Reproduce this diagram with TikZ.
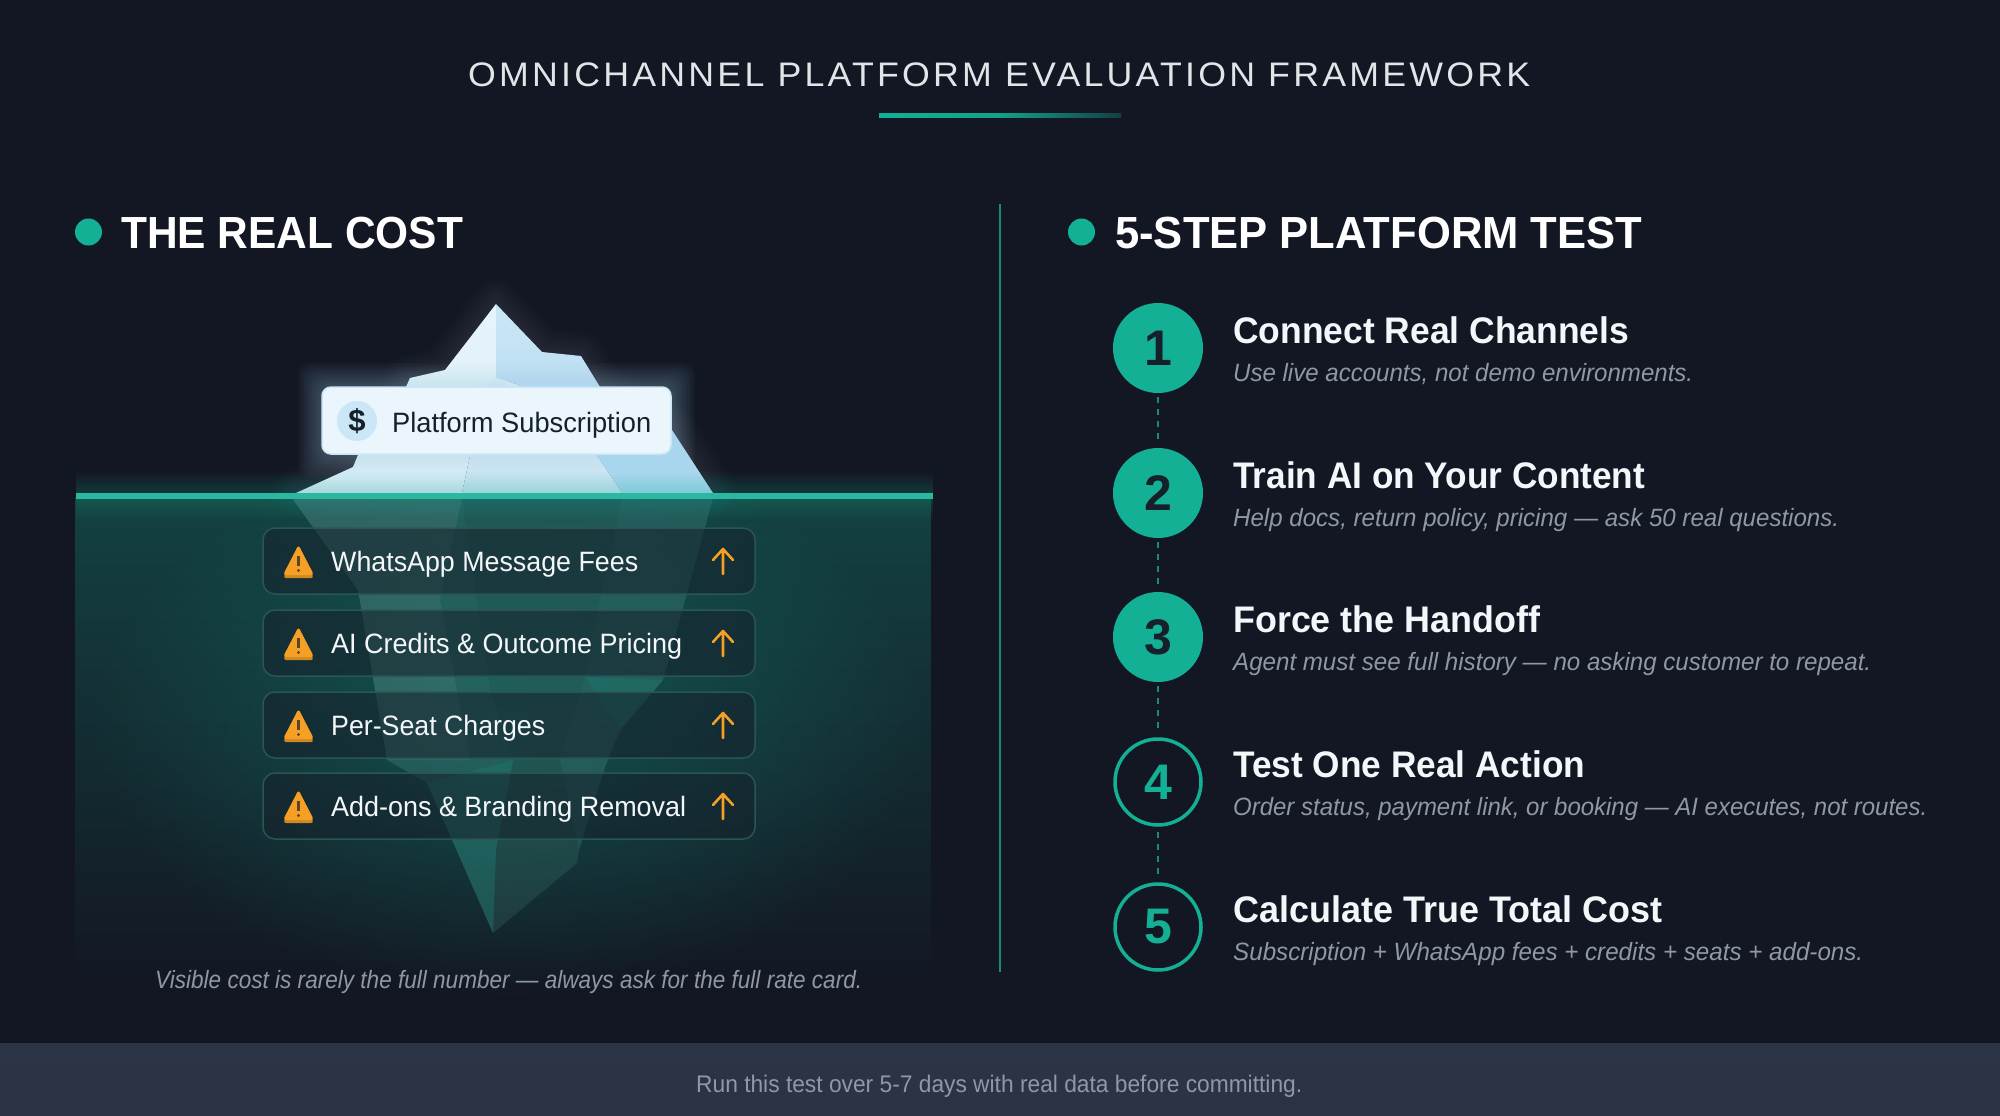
\documentclass[tikz,border=0pt]{standalone}
\usepackage{fontspec}
\usepackage{graphicx}
\setmainfont{Liberation Sans}
\newfontfamily\titlefont[LetterSpace=9]{Liberation Sans}
\usetikzlibrary{fadings,shadings,calc}
\definecolor{bgc}{HTML}{131723}
\definecolor{tealc}{HTML}{13B096}
\definecolor{teald}{HTML}{178A7A}
\definecolor{inkc}{HTML}{15202B}
\definecolor{greyc}{HTML}{8F98A4}
\definecolor{amberc}{HTML}{F5A024}
\definecolor{whitec}{HTML}{F4F7F9}
\definecolor{icea}{HTML}{E6F4FC}
\definecolor{iceb}{HTML}{CBE6F6}
\definecolor{icec}{HTML}{A8D6EF}
\definecolor{footc}{HTML}{2B3545}
\definecolor{footd}{HTML}{2A3342}
\newcommand{\fw}[2]{\resizebox{#1pt}{\height}{#2}}
\newcommand{\fs}[1]{\fontsize{#1}{#1}\selectfont}
\tikzfading[name=fadev, top color=transparent!72, middle color=transparent!93, bottom color=transparent!100]
\tikzfading[name=faderad, inner color=transparent!72, outer color=transparent!100]
\tikzset{
  txt/.style={inner sep=0pt, anchor=base west},
  stepfull/.style={circle, minimum size=90pt, inner sep=0pt, fill=tealc, text=inkc, font=\fs{50}\bfseries},
  stepring/.style={circle, minimum size=86pt, inner sep=0pt, draw=tealc, line width=3.5pt, text=tealc, font=\fs{50}\bfseries},
  stepdash/.style={draw=teald, line width=1.6pt, dash pattern=on 6pt off 6pt},
  stephead/.style={txt, text=whitec, font=\fs{37}\bfseries},
  stepsub/.style={txt, text=greyc, font=\fs{25}\itshape},
  costbox/.style={rounded corners=12pt, fill=inkc, fill opacity=.55, draw=teald!45!bgc!80!gray, line width=1.5pt},
  costtxt/.style={txt, text=whitec, font=\fs{28}},
  bullet/.style={circle, minimum size=27pt, inner sep=0pt, fill=tealc},
}
\begin{document}
\begin{tikzpicture}[x=1pt,y=-1pt]
\fill[bgc] (0,0) rectangle (2000,1116);
\useasboundingbox (0,0) rectangle (2000,1116);

% footer band
\shade[top color=footc, bottom color=footd] (0,1043) rectangle (2000,1116);
\node[txt, text=greyc, font=\fs{24}] (foot) at (696,1092) {\fw{606}{Run this test over 5-7 days with real data before committing.}};

% title
\node[txt, text=whitec!92!bgc, font=\fs{34}\titlefont] (ttl) at (468,87) {\fw{1062}{OMNICHANNEL PLATFORM EVALUATION FRAMEWORK}};
\shade[left color=tealc, right color=teald!35!bgc, middle color=tealc!90!bgc] (879,113) rectangle (1121,117);

% divider
\coordinate (divt) at (1000,204);
\coordinate (divb) at (1000,972);
\draw[teald, line width=2.5pt] (divt) -- (divb);

% headings
\node[bullet] (bl) at (88.5,232) {};
\node[bullet] (br) at (1081.5,232) {};
\node[txt, text=white, font=\fs{45}\bfseries] (hl) at (121,248) {\fw{342}{THE REAL COST}};
\node[txt, text=white, font=\fs{45}\bfseries] (hr) at (1115,248) {\fw{527}{5-STEP PLATFORM TEST}};

% water
\fill[tealc, path fading=fadev] (75.5,496) rectangle (933,990);
\begin{scope}
\clip (75.5,496) rectangle (933,1040);
\fill[tealc, path fading=faderad] (90,440) rectangle (930,1000);
\end{scope}

% submerged iceberg
\fill[teald!70!white, fill opacity=.22] (292,498) -- (713,498) -- (686,597) -- (663,680) -- (620,730) -- (605,767) -- (579,850) -- (577,863) -- (493,933) -- (427,783) -- (387,760) -- (370,660) -- (358,590) -- cycle;
\fill[white, fill opacity=.06] (292,498) -- (462,498) -- (440,600) -- (470,760) -- (387,760) -- (370,660) -- (358,590) -- cycle;
\fill[black, fill opacity=.06] (462,498) -- (622,498) -- (600,600) -- (585,677) -- (560,760) -- (513,760) -- (490,690) -- cycle;
\fill[teald, fill opacity=.25] (585,677) -- (663,680) -- (620,730) -- cycle;
\fill[black, fill opacity=.10] (513,760) -- (560,760) -- (579,850) -- (577,863) -- (493,933) -- (496,850) -- cycle;
\fill[teald, fill opacity=.25] (427,783) -- (513,760) -- (496,850) -- (493,933) -- cycle;

% above-water iceberg
\foreach \g in {3,6,...,24} {
  \draw[iceb, opacity=.012, line width=\g*2pt, line join=round] (496,304) -- (542,352) -- (581,356) -- (600,387) -- (672,430) -- (713,493) -- (296,493) -- (353,467) -- (358,455) -- (400,400) -- (410,378) -- (445,370) -- cycle;
}
\shade[top color=icea, bottom color=iceb!70!white] (496,304) -- (445,370) -- (410,378) -- (400,400) -- (358,455) -- (353,467) -- (296,493) -- (462,493) -- (482,400) -- (496,377) -- cycle;
\shade[top color=iceb, bottom color=icec] (496,304) -- (542,352) -- (581,356) -- (600,387) -- (672,430) -- (713,493) -- (622,493) -- (560,400) -- (496,377) -- cycle;
\shade[top color=icea, bottom color=iceb] (482,400) -- (496,377) -- (560,400) -- (622,493) -- (462,493) -- cycle;
\fill[iceb!70!white] (496,377) -- (479,387) -- (513,387) -- cycle;

% water line
\foreach \w in {2,4,...,24} {
  \fill[tealc, opacity=.022] (75.5,495.5-\w) rectangle (933,495.5+\w);
}
\fill[tealc!90!white] (75.5,493) rectangle (933,498.5);

% cost label glow + label
\foreach \g in {2,4,...,24} {
  \fill[icec, opacity=.028, rounded corners=12pt] (322-\g,387-\g) rectangle (671+\g,454+\g);
}
\draw[rounded corners=9pt, fill=icea!85!white, draw=iceb, line width=1.5pt] (322,387) rectangle (671,454);
\node[circle, minimum size=40pt, inner sep=0pt, fill=iceb] (dollar) at (357,421) {};
\node[inner sep=0pt, text=inkc, font=\fs{31}\bfseries] (dollart) at (dollar) {\$};
\node[txt, text=inkc, font=\fs{28}] (plat) at (392,432) {\fw{259}{Platform Subscription}};

% hidden-cost boxes
\foreach \i/\y/\w/\lab in {1/528/307/{WhatsApp Message Fees},2/610/351/{AI Credits \& Outcome Pricing},3/692/214/{Per-Seat Charges},4/773/355/{Add-ons \& Branding Removal}} {
  \draw[costbox] (263,\y) rectangle (755,\y+66);
  \node[costtxt] (c\i) at (331,\y+43) {\fw{\w}{\lab}};
  \begin{scope}[shift={(0,\y)}]
    \fill[amberc!85!black, rounded corners=3pt] (298.5,17) -- (314,50) -- (283,50) -- cycle;
    \fill[amberc, rounded corners=3pt] (298.5,17) -- (314,47) -- (283,47) -- cycle;
    \draw[inkc!70!amberc, line width=2.4pt] (298.5,28) -- (298.5,38);
    \fill[inkc!70!amberc] (298.5,42.5) circle (1.6pt);
    \draw[amberc, line width=2.6pt, line cap=round, line join=round] (723,46) -- (723,22) (713,32) -- (723,21) -- (733,32);
  \end{scope}
}

% caption
\node[txt, text=greyc, font=\fs{25}\itshape] (cap) at (155,988) {\fw{707}{Visible cost is rarely the full number — always ask for the full rate card.}};

% steps
\node[stepfull] (s1) at (1158,348) {1};
\node[stepfull] (s2) at (1158,493) {2};
\node[stepfull] (s3) at (1158,637) {3};
\node[stepring] (s4) at (1158,782) {4};
\node[stepring] (s5) at (1158,927) {5};
\draw[stepdash, shorten <=4pt, shorten >=5pt] (s1) -- (s2);
\draw[stepdash, shorten <=4pt, shorten >=5pt] (s2) -- (s3);
\draw[stepdash, shorten <=4pt, shorten >=5pt] (s3) -- (s4);
\draw[stepdash, shorten <=5pt, shorten >=5pt] (s4) -- (s5);

\node[stephead] (t1) at (1233,343) {\fw{396}{Connect Real Channels}};
\node[stepsub] (u1) at (1233,381) {\fw{460}{Use live accounts, not demo environments.}};
\node[stephead] (t2) at (1233,488) {\fw{412}{Train AI on Your Content}};
\node[stepsub] (u2) at (1233,526) {\fw{606}{Help docs, return policy, pricing — ask 50 real questions.}};
\node[stephead] (t3) at (1233,632) {\fw{307}{Force the Handoff}};
\node[stepsub] (u3) at (1233,670) {\fw{638}{Agent must see full history — no asking customer to repeat.}};
\node[stephead] (t4) at (1233,777) {\fw{352}{Test One Real Action}};
\node[stepsub] (u4) at (1233,815) {\fw{694}{Order status, payment link, or booking — AI executes, not routes.}};
\node[stephead] (t5) at (1233,922) {\fw{429}{Calculate True Total Cost}};
\node[stepsub] (u5) at (1233,960) {\fw{630}{Subscription + WhatsApp fees + credits + seats + add-ons.}};
\end{tikzpicture}
\end{document}
